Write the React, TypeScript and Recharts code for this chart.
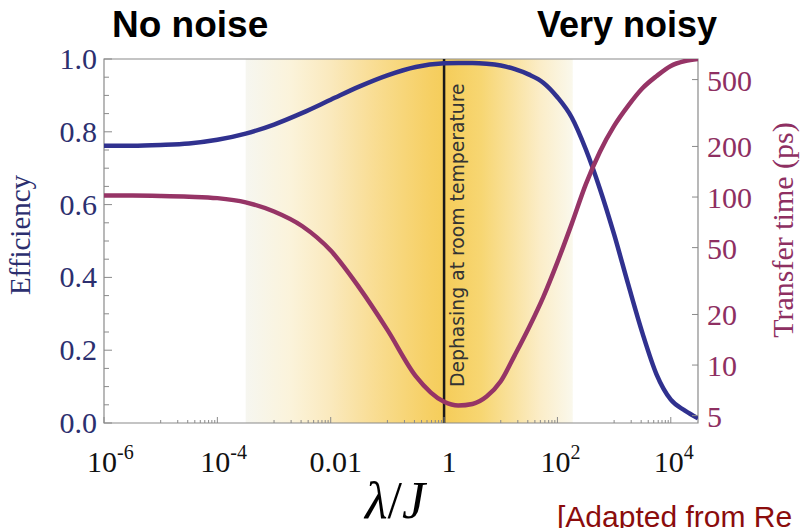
import React from 'react';
import { ComposedChart, Line, XAxis, YAxis, ReferenceArea, ReferenceLine } from 'recharts';

// log10(lambda/J) sample points
const lambdaExp = [-6, -5.5, -5, -4.5, -4, -3.5, -3, -2.5, -2, -1.5, -1, -0.5, 0, 0.25, 0.5, 0.75, 1, 1.25, 1.5, 1.75, 2, 2.25, 2.5, 2.75, 3, 3.25, 3.5, 3.75, 4, 4.25, 4.48];
const efficiency = [0.762, 0.762, 0.764, 0.768, 0.778, 0.795, 0.82, 0.852, 0.888, 0.924, 0.955, 0.978, 0.988, 0.989, 0.989, 0.987, 0.982, 0.972, 0.957, 0.935, 0.895, 0.84, 0.752, 0.643, 0.518, 0.38, 0.247, 0.133, 0.064, 0.034, 0.013];
const transferTime = [102, 102, 101.5, 100.5, 98.5, 93, 82, 67, 48, 29, 16.2, 8.6, 6.05, 5.75, 5.87, 6.5, 8.0, 11.5, 16.8, 25.4, 41, 69, 119, 186, 265, 350, 444, 525, 603, 645, 663];

const xMajorTicks = [1e-6, 1e-4, 1e-2, 1, 1e2, 1e4];
const xTickLabels = ['10^-6', '10^-4', '0.01', '1', '10^2', '10^4'];
const minorDecades = [-5, -3, -1, 1, 3];
const minorMult = [1, 2, 3, 4, 5, 6, 7, 8, 9];
const effTicks = [0, 0.05, 0.1, 0.15, 0.2, 0.25, 0.3, 0.35, 0.4, 0.45, 0.5, 0.55, 0.6, 0.65, 0.7, 0.75, 0.8, 0.85, 0.9, 0.95, 1];
const timeTicks = [5, 10, 20, 50, 100, 200, 500];

const BLUE = '#30318f';
const MAGENTA = '#963466';
const NAVY = '#2c2f6f';
const MAROON = '#8e2f62';
const FRAME = '#8a8a8a';

const data = lambdaExp.map((e, i) => ({ lam: Math.pow(10, e), eff: efficiency[i], time: transferTime[i] }));
const xTicks = [
  ...xMajorTicks,
  ...minorDecades.flatMap((d) => minorMult.map((m) => m * Math.pow(10, d))),
];

const XTick = (props: any) => {
  const { x, y, payload } = props;
  const idx = xMajorTicks.findIndex((t) => Math.abs(Math.log10(t) - Math.log10(payload.value)) < 1e-6);
  const major = idx >= 0;
  const label = major ? xTickLabels[idx] : '';
  let text = null;
  if (major) {
    if (label.includes('^')) {
      const [base, exp] = label.split('^');
      text = (
        <text x={x - 17} y={y + 49} fontFamily="Liberation Serif, serif" fontSize={30} fill="#111">
          <tspan>{base}</tspan>
          <tspan dy={-13} fontSize={20}>{exp}</tspan>
        </text>
      );
    } else {
      text = (
        <text x={x + 5} y={y + 49} textAnchor="middle" fontFamily="Liberation Serif, serif" fontSize={30} fill="#111">
          {label}
        </text>
      );
    }
  }
  return (
    <g>
      <line x1={x} x2={x} y1={y} y2={y - (major ? 6 : 3)} stroke={FRAME} />
      {text}
    </g>
  );
};

const EffTick = (props: any) => {
  const { x, y, payload } = props;
  const v = payload.value;
  const major = Math.abs(v * 5 - Math.round(v * 5)) < 1e-6;
  return (
    <g>
      <line x1={x} x2={x + (major ? 8 : 5)} y1={y} y2={y} stroke={FRAME} />
      {major && (
        <text x={x - 7} y={y} dy={10} textAnchor="end" fontFamily="Liberation Serif, serif" fontSize={30} fill={NAVY}>
          {v.toFixed(1)}
        </text>
      )}
    </g>
  );
};

const TimeTick = (props: any) => {
  const { x, y, payload } = props;
  return (
    <g>
      <line x1={x} x2={x - 6} y1={y} y2={y} stroke={FRAME} />
      <text x={x + 9} y={y} dy={11} textAnchor="start" fontFamily="Liberation Serif, serif" fontSize={30} fill={MAROON}>
        {payload.value}
      </text>
    </g>
  );
};

const DephasingLabel = (props: any) => {
  const { viewBox } = props;
  const tx = viewBox.x + 20;
  const ty = viewBox.y + viewBox.height - 36;
  return (
    <text x={tx} y={ty} transform={`rotate(-90 ${tx} ${ty})`} fontFamily="DejaVu Sans, sans-serif" fontSize={18.8} fill="#333">
      Dephasing at room temperature
    </text>
  );
};

export default function App() {
  return (
    <div style={{ position: 'absolute', left: 0, top: 0, width: 802, height: 528, background: '#fff', overflow: 'hidden' }}>
      <ComposedChart width={802} height={528} data={data} margin={{ top: 59, right: 0, bottom: 0, left: 0 }}>
        <defs>
          <linearGradient id="noiseBand" x1="0" y1="0" x2="1" y2="0">
            <stop offset="0" stopColor="#f6f6f0" />
            <stop offset="0.14" stopColor="#fbf3da" />
            <stop offset="0.26" stopColor="#fae9bd" />
            <stop offset="0.38" stopColor="#f9de97" />
            <stop offset="0.48" stopColor="#f7d67a" />
            <stop offset="0.57" stopColor="#f6cf62" />
            <stop offset="0.61" stopColor="#f5cd5a" />
            <stop offset="0.72" stopColor="#f7d672" />
            <stop offset="0.81" stopColor="#f9e19c" />
            <stop offset="0.9" stopColor="#fbedc8" />
            <stop offset="1" stopColor="#faf8ec" />
          </linearGradient>
        </defs>
        <XAxis
          dataKey="lam"
          type="number"
          scale="log"
          domain={[1e-6, Math.pow(10, 4.48)]}
          allowDataOverflow
          ticks={xTicks}
          interval={0}
          tick={<XTick />}
          tickLine={false}
          tickSize={0}
          tickMargin={0}
          axisLine={false}
          height={105}
        />
        <YAxis
          yAxisId="eff"
          orientation="left"
          type="number"
          domain={[0, 1]}
          ticks={effTicks}
          interval={0}
          tick={<EffTick />}
          tickLine={false}
          tickSize={0}
          tickMargin={0}
          axisLine={false}
          width={104}
          label={{
            content: () => (
              <text x={30} y={235} transform="rotate(-90 30 235)" textAnchor="middle" fontFamily="Liberation Serif, serif" fontSize={29} fill={NAVY}>
                Efficiency
              </text>
            ),
          }}
        />
        <YAxis
          yAxisId="time"
          orientation="right"
          type="number"
          scale="log"
          domain={[4.52, 663]}
          allowDataOverflow
          ticks={timeTicks}
          interval={0}
          tick={<TimeTick />}
          tickLine={false}
          tickSize={0}
          tickMargin={0}
          axisLine={false}
          width={104}
          label={{
            content: () => (
              <text x={793} y={230} transform="rotate(-90 793 230)" textAnchor="middle" fontFamily="Liberation Serif, serif" fontSize={30} fill={MAROON}>
                Transfer time (ps)
              </text>
            ),
          }}
        />
        <ReferenceArea yAxisId="eff" x1={Math.pow(10, -3.5)} x2={Math.pow(10, 2.27)} y1={0} y2={1} fill="url(#noiseBand)" fillOpacity={1} stroke="none" />
        <ReferenceLine yAxisId="eff" x={1} stroke="#1a1a1a" strokeWidth={2.5} label={<DephasingLabel />} />
        <Line yAxisId="eff" dataKey="eff" type="monotone" stroke={BLUE} strokeWidth={4.5} dot={false} isAnimationActive={false} />
        <Line yAxisId="time" dataKey="time" type="monotone" stroke={MAGENTA} strokeWidth={4.5} dot={false} isAnimationActive={false} />
        <ReferenceArea yAxisId="eff" x1={1e-6} x2={Math.pow(10, 4.48)} y1={0} y2={1} fill="none" stroke={FRAME} strokeWidth={1.2} />
      </ComposedChart>
      <svg width={802} height={528} style={{ position: 'absolute', left: 0, top: 0, pointerEvents: 'none' }}>
        <text x={112} y={37} fontFamily="Liberation Sans, Arial, sans-serif" fontWeight="bold" fontSize={37} fill="#000">
          No noise
        </text>
        <text x={537} y={37} fontFamily="Liberation Sans, Arial, sans-serif" fontWeight="bold" fontSize={36} fill="#000">
          Very noisy
        </text>
        <text x={395} y={518} textAnchor="middle" fontFamily="Liberation Serif, serif" fontSize={52} fill="#000">
          <tspan fontStyle="italic">λ</tspan>
          <tspan>/</tspan>
          <tspan fontStyle="italic">J</tspan>
        </text>
        <text x={557} y={527} fontFamily="Liberation Sans, Arial, sans-serif" fontSize={30} fill="#8b0c0c">
          [Adapted from Re
        </text>
      </svg>
    </div>
  );
}
